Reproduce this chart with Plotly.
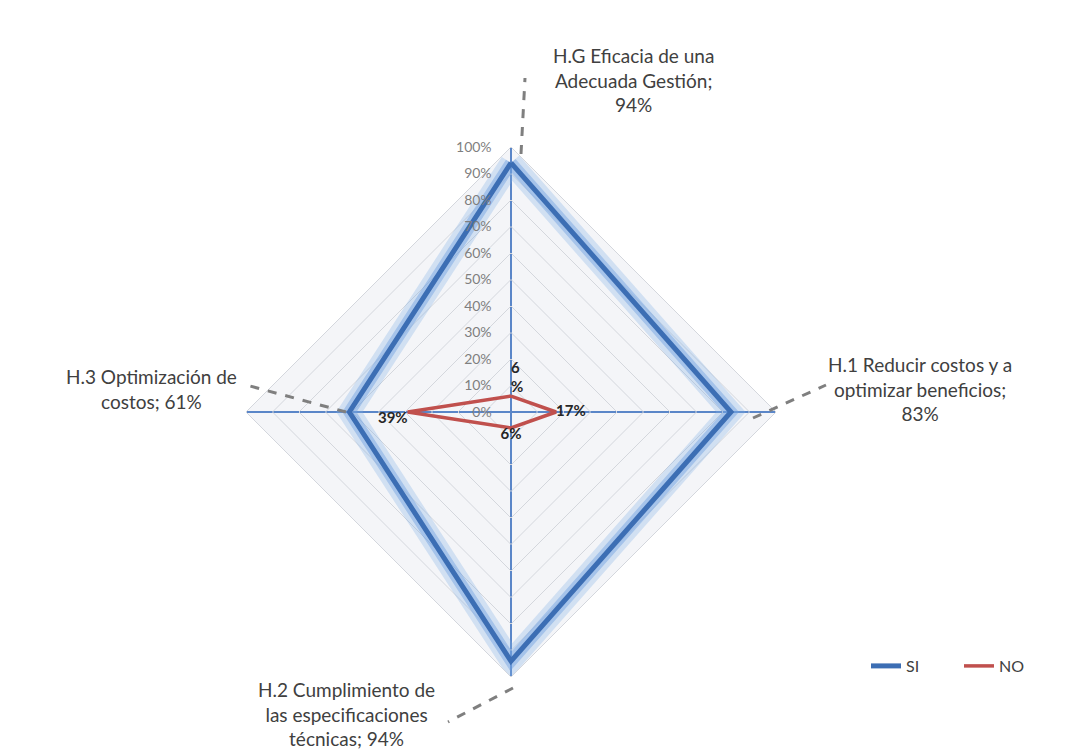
import plotly.graph_objects as go

categories = ["H.G Eficacia de una Adecuada Gestión", "H.1 Reducir costos y a optimizar beneficios",
              "H.2 Cumplimiento de las especificaciones técnicas", "H.3 Optimización de costos"]
si_values = [0.94, 0.83, 0.94, 0.61]
no_values = [0.06, 0.17, 0.06, 0.39]
no_labels = ["6<br>%", "17%", "6%", "39%"]
si_label_text = ["H.G Eficacia de una<br>Adecuada Gestión;<br>94%",
                 "H.1 Reducir costos y a<br>optimizar beneficios;<br>83%",
                 "H.2 Cumplimiento de<br>las especificaciones<br>técnicas; 94%",
                 "H.3 Optimización de<br>costos; 61%"]
radial_ticks = [i / 10 for i in range(11)]
radial_tick_text = [f"{i*10}%" for i in range(11)]

W, H = 1083, 749
cx, cy, R = 503, 404, 265


def px(x):
    return x / W


def py(y):
    return 1 - y / H


theta = categories + [categories[0]]
si_closed = si_values + [si_values[0]]
no_closed = no_values + [no_values[0]]

fig = go.Figure()
# glow under SI line
fig.add_trace(go.Scatterpolar(r=si_closed, theta=theta, mode="lines",
                              line=dict(color="rgba(130,175,230,0.30)", width=22),
                              showlegend=False, hoverinfo="skip"))
fig.add_trace(go.Scatterpolar(r=si_closed, theta=theta, mode="lines",
                              line=dict(color="rgba(110,160,225,0.45)", width=12),
                              showlegend=False, hoverinfo="skip"))
fig.add_trace(go.Scatterpolar(r=si_closed, theta=theta, mode="lines", name="SI",
                              line=dict(color="#3c6eb4", width=5)))
fig.add_trace(go.Scatterpolar(r=no_closed, theta=theta, mode="lines", name="NO",
                              line=dict(color="#c0504d", width=3.5)))
# NO data labels
fig.add_trace(go.Scatterpolar(r=no_values, theta=categories, mode="text", text=no_labels,
                              textposition=["top right", "middle right", "bottom center", "bottom left"],
                              textfont=dict(family="Lato", size=15, color="#262626", weight="bold"),
                              showlegend=False, hoverinfo="skip"))

label_font = dict(family="Lato", size=19, color="#404040")
ann_pos = [(625, 72), (912, 381), (338, 706), (143, 381)]
annotations = []
for txt, (x, y) in zip(si_label_text, ann_pos):
    annotations.append(dict(x=px(x), y=py(y), xref="paper", yref="paper", text=txt,
                            showarrow=False, font=label_font, align="center",
                            xanchor="center", yanchor="middle"))

leaders = [((513, 146), (517, 70)), ((745, 410), (818, 377)),
           ((505, 680), (440, 714)), ((338, 404), (242, 378))]
shapes = []
for (x0, y0), (x1, y1) in leaders:
    shapes.append(dict(type="line", xref="paper", yref="paper",
                       x0=px(x0), y0=py(y0), x1=px(x1), y1=py(y1),
                       line=dict(color="#7f7f7f", width=3, dash="dash")))

fig.update_layout(
    width=W, height=H,
    margin=dict(l=0, r=0, t=0, b=0, autoexpand=False),
    paper_bgcolor="white",
    font=dict(family="Lato"),
    polar=dict(
        domain=dict(x=[px(cx - R), px(cx + R)], y=[py(cy + R), py(cy - R)]),
        gridshape="linear",
        bgcolor="#f4f5f8",
        radialaxis=dict(range=[0, 1], tickvals=radial_ticks, ticktext=radial_tick_text,
                        angle=90, tickangle=90, side="counterclockwise",
                        showline=False, ticks="outside", ticklen=14, tickcolor="rgba(0,0,0,0)",
                        gridcolor="#d4d7dd", gridwidth=1,
                        tickfont=dict(family="Lato", size=14, color="#7f7f7f")),
        angularaxis=dict(rotation=90, direction="clockwise", showticklabels=False,
                         ticks="", gridcolor="#5a86c8", gridwidth=1.5,
                         linecolor="#d4d7dd", linewidth=1),
    ),
    legend=dict(orientation="h", x=px(858), y=py(658), xanchor="left", yanchor="middle",
                entrywidth=48, entrywidthmode="pixels",
                font=dict(family="Lato", size=16, color="#404040"),
                bgcolor="rgba(0,0,0,0)"),
    annotations=annotations,
    shapes=shapes,
)

fig.write_html("out.html")
